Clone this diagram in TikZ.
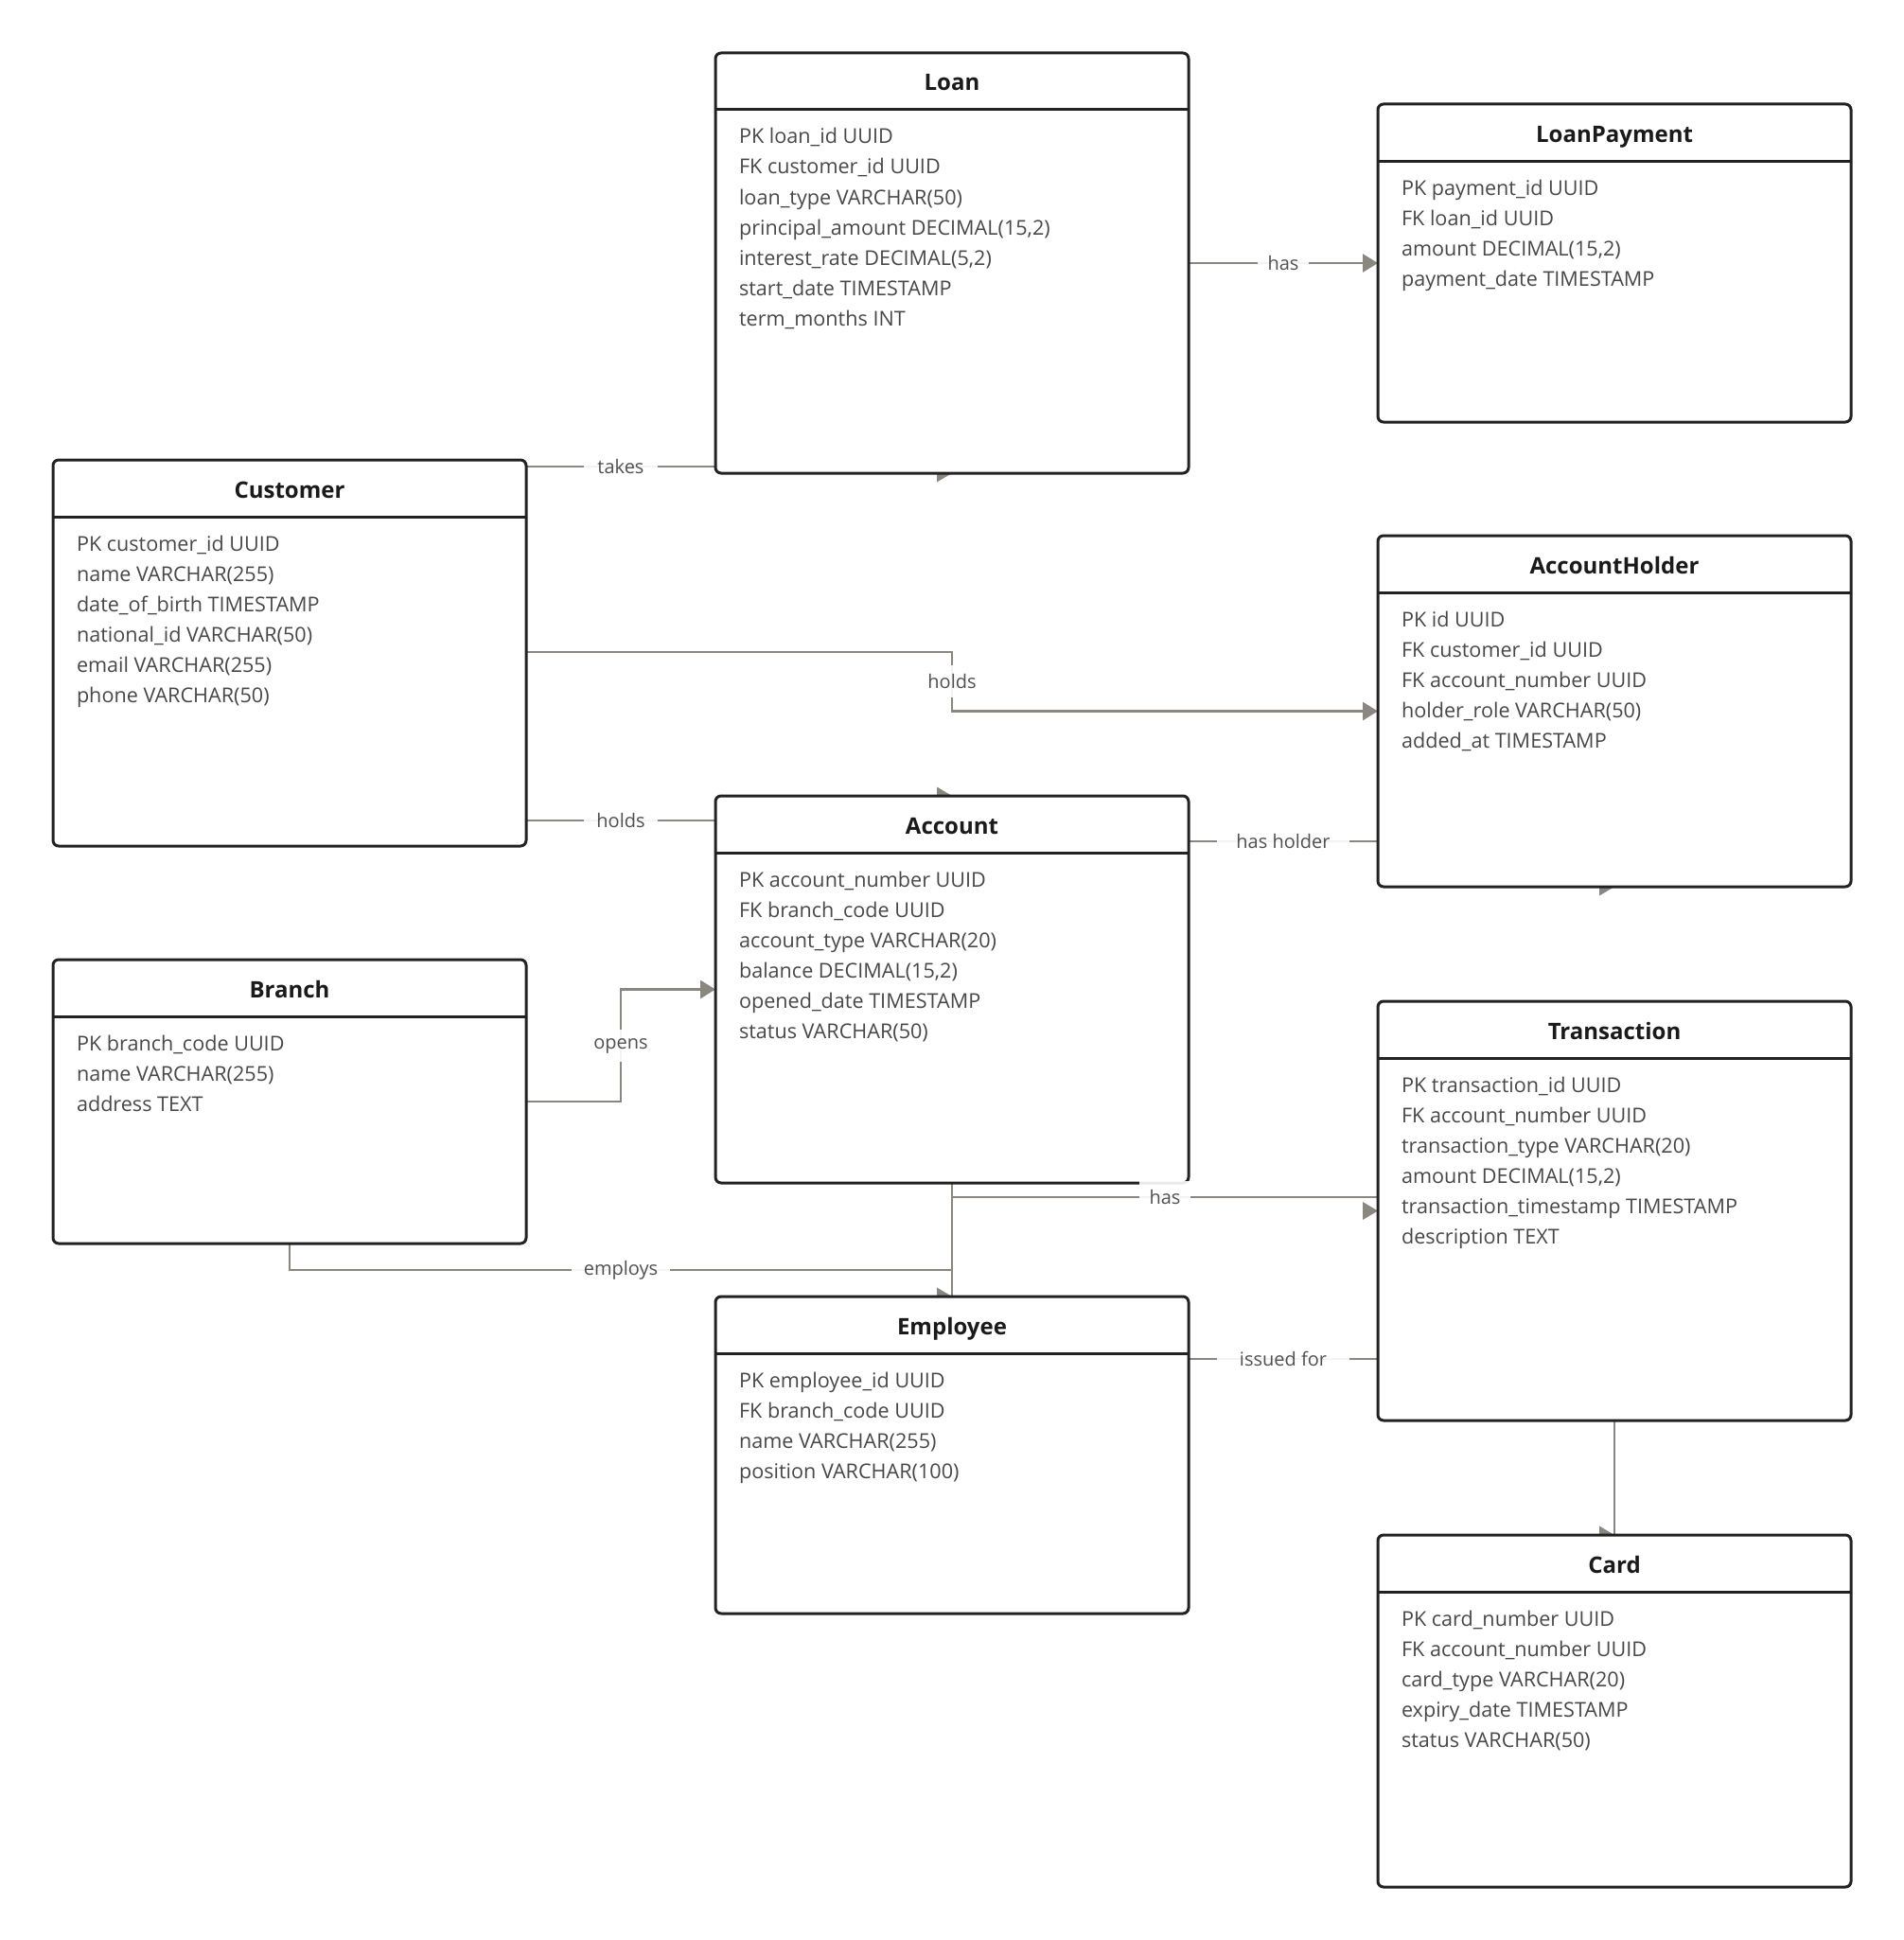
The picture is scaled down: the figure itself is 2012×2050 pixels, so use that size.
\documentclass[tikz,border=0pt]{standalone}
\usepackage{fontspec}
\setmainfont{Open Sans}
\usetikzlibrary{arrows.meta,calc}
\definecolor{boxc}{RGB}{34,34,34}
\definecolor{connc}{RGB}{138,134,128}
\definecolor{textc}{RGB}{72,72,72}
\definecolor{titlec}{RGB}{26,26,26}
\definecolor{labc}{RGB}{80,80,80}
\pgfdeclarelayer{bg}
\pgfdeclarelayer{fg}
\pgfsetlayers{bg,main,fg}
\tikzset{
  ebox/.style={draw=boxc, line width=1.5pt, rounded corners=3pt, fill=white,
    minimum width=250pt, inner sep=0pt, outer sep=0pt},
  eline/.style={draw=boxc, line width=1.5pt},
  etitle/.style={font=\bfseries\fontsize{12pt}{14pt}\selectfont, text=titlec, inner sep=0pt},
  erow/.style={font=\fontsize{10.8pt}{13pt}\selectfont, text=textc, inner sep=0pt},
  conn/.style={draw=connc, line width=1.4pt},
  tip/.style={-{Triangle[length=8pt,width=9.5pt]}},
  lbl/.style={fill=white, fill opacity=0.9, text opacity=1, text=labc,
    font=\fontsize{10pt}{12pt}\selectfont, inner sep=0pt, minimum height=17pt},
  ahead/.style={fill=connc},
}
\newcommand\entity[6]{%
  \node[ebox, minimum height={#4*0.5pt}, anchor=north west] (#1) at (#2,#3) {};
  \draw[eline] ([yshift=-30pt]#1.north west) -- ([yshift=-30pt]#1.north east);
  \node[etitle, anchor=base] (#1-title) at ([yshift=-20pt]#1.north) {#5};
  \foreach \rowtext [count=\ri] in {#6}{%
    \node[erow, anchor=base west] (#1-row\ri) at ([xshift=12.3pt, yshift={-48pt-(\ri-1)*16pt}]#1.north west) {\rowtext};
  }%
}
\begin{document}
\begin{tikzpicture}[x=0.5pt, y=-0.5pt]
\begin{pgfonlayer}{bg}
  \fill[white] (0,0) rectangle (2012,2050);
\end{pgfonlayer}
\useasboundingbox (0,0) rectangle (2012,2050);

% entities
\entity{loan}{756}{56}{444}{Loan}{{PK loan\_id UUID},{FK customer\_id UUID},{loan\_type VARCHAR(50)},{principal\_amount DECIMAL(15,2)},{interest\_rate DECIMAL(5,2)},{start\_date TIMESTAMP},{term\_months INT}}
\entity{lp}{1456}{110}{336}{LoanPayment}{{PK payment\_id UUID},{FK loan\_id UUID},{amount DECIMAL(15,2)},{payment\_date TIMESTAMP}}
\entity{customer}{56}{486}{408}{Customer}{{PK customer\_id UUID},{name VARCHAR(255)},{date\_of\_birth TIMESTAMP},{national\_id VARCHAR(50)},{email VARCHAR(255)},{phone VARCHAR(50)}}
\entity{ah}{1456}{566}{371}{AccountHolder}{{PK id UUID},{FK customer\_id UUID},{FK account\_number UUID},{holder\_role VARCHAR(50)},{added\_at TIMESTAMP}}
\entity{account}{756}{841}{409}{Account}{{PK account\_number UUID},{FK branch\_code UUID},{account\_type VARCHAR(20)},{balance DECIMAL(15,2)},{opened\_date TIMESTAMP},{status VARCHAR(50)}}
\entity{branch}{56}{1014}{300}{Branch}{{PK branch\_code UUID},{name VARCHAR(255)},{address TEXT}}
\entity{transaction}{1456}{1058}{443}{Transaction}{{PK transaction\_id UUID},{FK account\_number UUID},{transaction\_type VARCHAR(20)},{amount DECIMAL(15,2)},{transaction\_timestamp TIMESTAMP},{description TEXT}}
\entity{employee}{756}{1370}{335}{Employee}{{PK employee\_id UUID},{FK branch\_code UUID},{name VARCHAR(255)},{position VARCHAR(100)}}
\entity{card}{1456}{1622}{372}{Card}{{PK card\_number UUID},{FK account\_number UUID},{card\_type VARCHAR(20)},{expiry\_date TIMESTAMP},{status VARCHAR(50)}}

% routing levels
\coordinate (ytakes) at (0,493);
\coordinate (yholdsA) at (0,689);
\coordinate (yholdsB) at (0,867);
\coordinate (yhh) at (0,889);
\coordinate (yopens) at (0,1164);
\coordinate (xmid) at (656,0);
\coordinate (yhas) at (0,1265);
\coordinate (yemp) at (0,1342);
\coordinate (yiss) at (0,1436);

\begin{pgfonlayer}{bg}
  % connectors
  \draw[conn] (customer.east |- ytakes) -- (loan.west |- ytakes);
  \draw[conn, tip] (loan.east) -- (lp.west);
  \draw[conn, tip] (customer.east |- yholdsA) -- (account.north |- yholdsA) -- (account.north |- ah.west) -- (ah.west);
  \draw[conn] (customer.east |- yholdsB) -- (account.west |- yholdsB);
  \draw[conn] (account.east |- yhh) -- (ah.west |- yhh);
  \draw[conn, tip] (branch.east |- yopens) -- (xmid |- yopens) -- (xmid |- account.west) -- (account.west);
  \draw[conn] (account.south) -- (account.south |- yhas) -- (transaction.west |- yhas);
  \draw[conn] (account.south) -- (employee.north);
  \draw[conn] (branch.south) -- (branch.south |- yemp) -- (employee.north |- yemp) -- (employee.north);
  \draw[conn] (employee.east |- yiss) -- (transaction.west |- yiss);
  \draw[conn] (transaction.south) -- (card.north);
  % arrowheads placed at node anchors
  \fill[ahead] (loan.south) -- ++(-8pt,4.75pt) -- ++(0,-9.5pt) -- cycle;
  \fill[ahead] (account.north) -- ++(-8pt,4.75pt) -- ++(0,-9.5pt) -- cycle;
  \fill[ahead] (ah.south) -- ++(-8pt,4.75pt) -- ++(0,-9.5pt) -- cycle;
  \fill[ahead] (employee.north) -- ++(-8pt,4.75pt) -- ++(0,-9.5pt) -- cycle;
  \fill[ahead] (card.north) -- ++(-8pt,4.75pt) -- ++(0,-9.5pt) -- cycle;
  \fill[ahead] (transaction.west) -- ++(-8pt,4.75pt) -- ++(0,-9.5pt) -- cycle;
\end{pgfonlayer}

\begin{pgfonlayer}{fg}
  \node[lbl, minimum width=39pt] (l-takes) at (656,493) {takes};
  \node[lbl, minimum width=27pt] (l-has1) at (1356,278) {has};
  \node[lbl, minimum width=39pt] (l-holds1) at (1006,720) {holds};
  \node[lbl, minimum width=39pt] (l-holds2) at (656,867) {holds};
  \node[lbl, minimum width=70pt] (l-hh) at (1356,889) {has holder};
  \node[lbl, minimum width=44pt] (l-opens) at (656,1105) {opens};
  \node[lbl, minimum width=27pt] (l-has2) at (1231,1265) {has};
  \node[lbl, minimum width=52pt] (l-emp) at (656,1342) {employs};
  \node[lbl, minimum width=70pt] (l-iss) at (1356,1436) {issued for};
\end{pgfonlayer}
\end{tikzpicture}
\end{document}
